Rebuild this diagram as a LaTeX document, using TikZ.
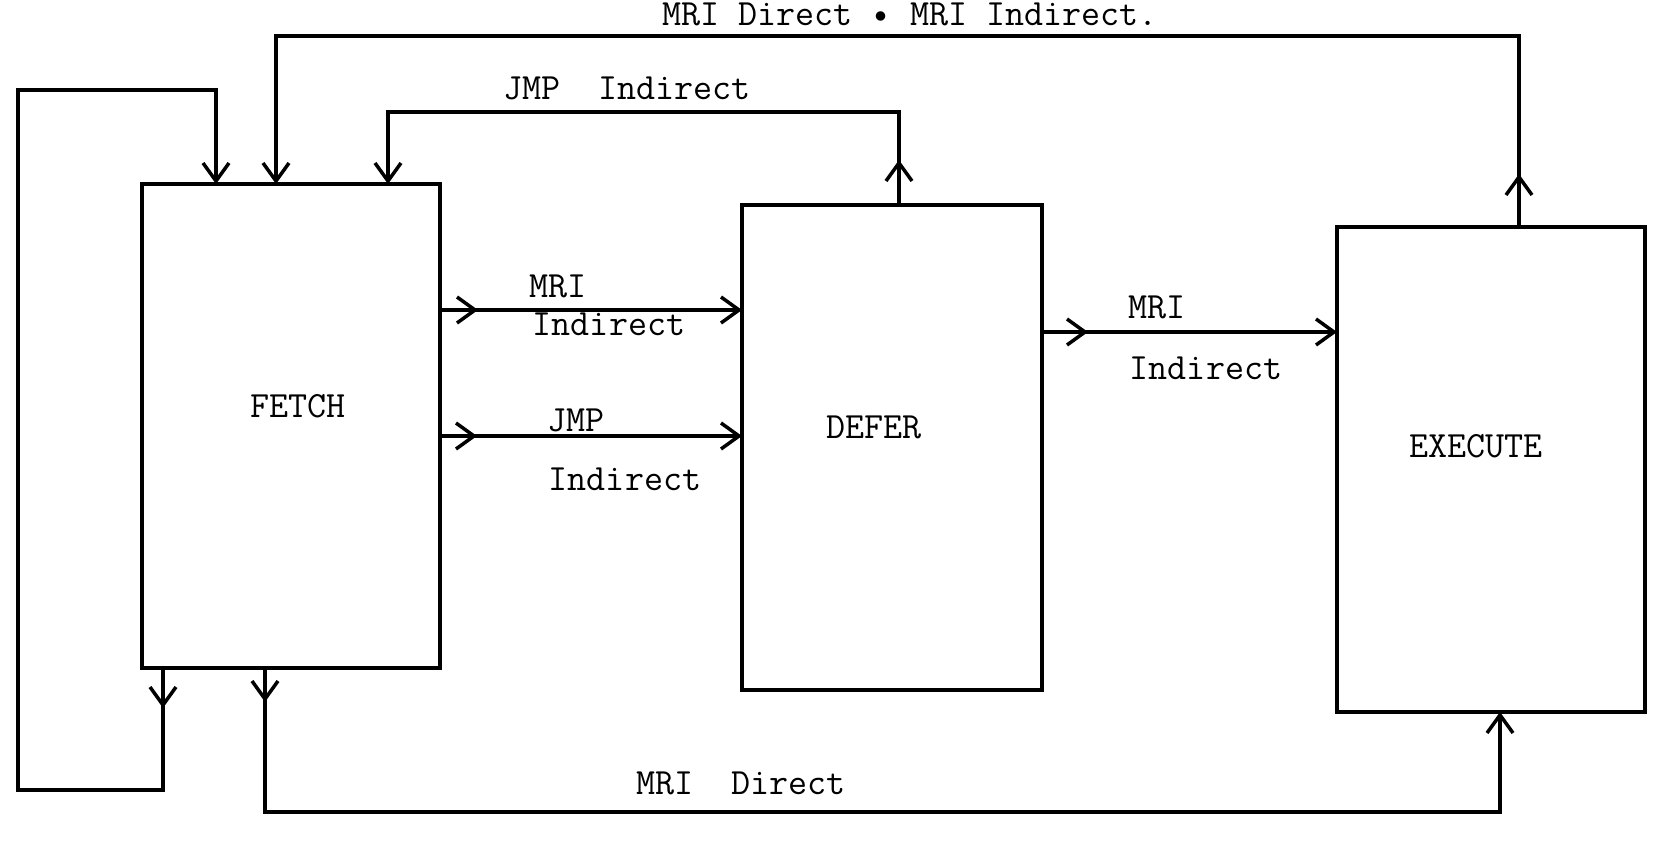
\documentclass[tikz,border=0pt]{standalone}
\usetikzlibrary{arrows.meta,decorations.markings}

\tikzset{
  barb/.tip={Straight Barb[length=18pt,width=26pt]},
  link/.style={line width=3.5pt, line join=miter},
  stagebox/.style={draw, line width=3.5pt, inner sep=0pt, outer sep=0pt},
  txt/.style={font=\fontsize{37}{40}\selectfont\ttfamily, inner sep=0pt, anchor=base},
  midtip/.style={postaction={decorate},
    decoration={markings, mark=at position #1 with {\arrow{barb}}}}
}

\begin{document}
\begin{tikzpicture}[x=1pt, y=-1pt]
  \useasboundingbox (0,0) rectangle (1654,842);

  % the three machine cycles
  \node[stagebox, minimum width=298pt, minimum height=484pt] (fetch) at (291,426) {};
  \node[stagebox, minimum width=300pt, minimum height=485pt] (defer) at (892,447.5) {};
  \node[stagebox, minimum width=308pt, minimum height=485pt] (exec)  at (1491,469.5) {};

  \node[txt] (fetchlbl) at (298,417) {FETCH};
  \node[txt] (deferlbl) at (874,438) {DEFER};
  \node[txt] (execlbl)  at (1476,457) {EXECUTE};

  % corner points of the loops
  \coordinate (lb) at (163,790);
  \coordinate (lt) at (18,90);
  \coordinate (lin) at (216,90);
  \coordinate (tr) at (1519,36);
  \coordinate (tl) at (276,36);
  \coordinate (jr) at (899,112);
  \coordinate (jl) at (388,112);
  \coordinate (bl) at (265,812);
  \coordinate (br) at (1500,812);
  \coordinate (h1) at (0,310);
  \coordinate (h2) at (0,436);
  \coordinate (h3) at (0,332);

  % fetch back to fetch
  \draw[link, midtip=40pt, -barb] (fetch.south -| lb) -- (lb) -- (lb -| lt) -- (lt) -- (lin) -- (fetch.north -| lin);
  % execute back to fetch
  \draw[link, midtip=53pt, -barb] (exec.north -| tr) -- (tr) -- (tl) -- (fetch.north -| tl);
  % defer back to fetch
  \draw[link, midtip=45pt, -barb] (defer.north -| jr) -- (jr) -- (jl) -- (fetch.north -| jl);
  % fetch to execute, direct
  \draw[link, midtip=34pt, -barb] (fetch.south -| bl) -- (bl) -- (br) -- (exec.south -| br);
  % fetch to defer
  \draw[link, midtip=38pt, -barb] (fetch.east |- h1) -- (defer.west |- h1);
  \draw[link, midtip=37pt, -barb] (fetch.east |- h2) -- (defer.west |- h2);
  % defer to execute
  \draw[link, midtip=46pt, -barb] (defer.east |- h3) -- (exec.west |- h3);

  % connector labels
  \node[txt] (toplbl) at (910,26) {MRI Direct \textbullet{} MRI Indirect.};
  \node[txt] (jmplbl) at (627,100) {JMP\ \ Indirect};
  \node[txt] (mri1) at (558,298) {MRI};
  \node[txt] (ind1) at (609,335) {Indirect};
  \node[txt] (jmp2) at (576,431) {JMP};
  \node[txt] (ind2) at (625,490) {Indirect};
  \node[txt] (mri3) at (1157,318) {MRI};
  \node[txt] (ind3) at (1206,379) {Indirect};
  \node[txt] (dirlbl) at (741,794) {MRI\ \ Direct};
\end{tikzpicture}
\end{document}
